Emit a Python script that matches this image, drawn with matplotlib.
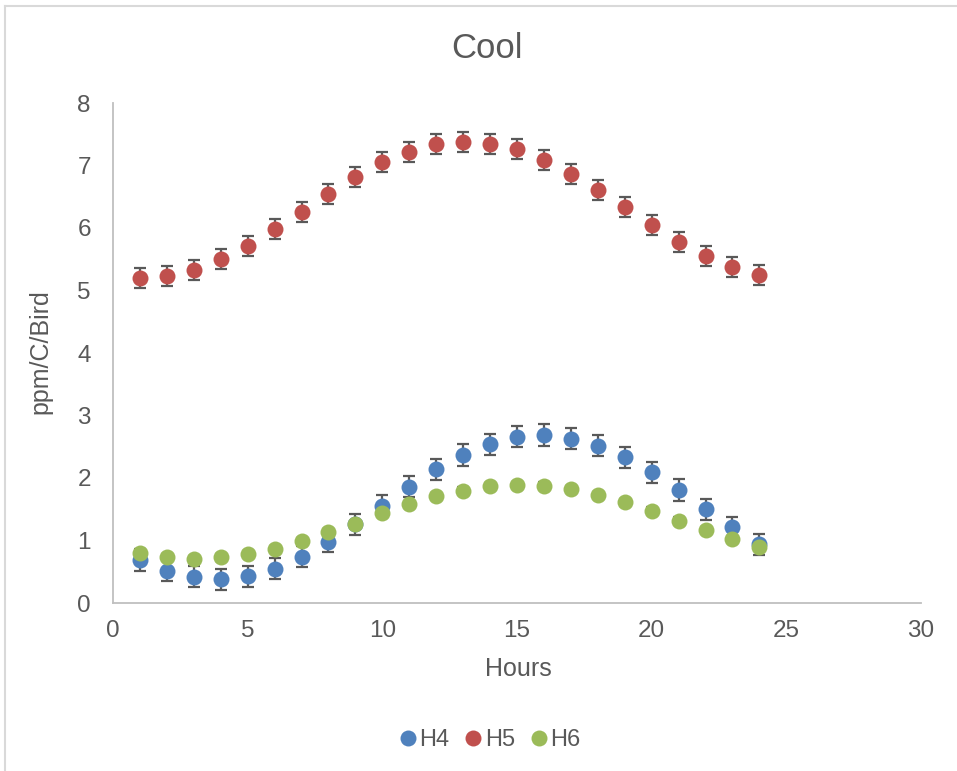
import matplotlib
matplotlib.use("Agg")
import matplotlib.pyplot as plt
from matplotlib.lines import Line2D

plt.rcParams['font.family'] = ['Liberation Sans', 'DejaVu Sans']

hours = list(range(1, 25))
h4 = [0.69, 0.52, 0.42, 0.38, 0.43, 0.55, 0.74, 0.98, 1.26, 1.56, 1.86, 2.14,
      2.37, 2.54, 2.66, 2.69, 2.63, 2.52, 2.33, 2.09, 1.81, 1.50, 1.21, 0.94]
h5 = [5.20, 5.23, 5.33, 5.50, 5.72, 5.98, 6.26, 6.54, 6.81, 7.05, 7.22, 7.34,
      7.38, 7.35, 7.26, 7.09, 6.87, 6.61, 6.33, 6.05, 5.78, 5.55, 5.37, 5.25]
h6 = [0.80, 0.74, 0.71, 0.73, 0.78, 0.87, 0.99, 1.13, 1.27, 1.44, 1.58, 1.71,
      1.80, 1.87, 1.89, 1.88, 1.82, 1.73, 1.61, 1.48, 1.32, 1.17, 1.02, 0.90]
h4_err = 0.17
h5_err = 0.16
h6_err = 0.05

series = [("H4", h4, h4_err, "#4F81BD"),
          ("H5", h5, h5_err, "#C0504D"),
          ("H6", h6, h6_err, "#9BBB59")]

text_color = "#595959"
W, H = 957, 771
fig = plt.figure(figsize=(W / 100, H / 100), dpi=100)
ax = fig.add_axes([113 / W, (H - 603) / H, (921 - 113) / W, (603 - 103) / H])

for z, (name, vals, err, color) in enumerate(series):
    ax.errorbar(hours, vals, yerr=err, fmt='none', ecolor="#595959",
                elinewidth=1.6, capsize=4, capthick=1.6, zorder=3 + 2 * z)
    ax.plot(hours, vals, 'o', color=color, markersize=11.5, markeredgewidth=0,
            zorder=4 + 2 * z, label=name)

ax.set_xlim(0, 30)
ax.set_ylim(0, 8)
ax.set_xticks(range(0, 31, 5))
ax.set_yticks(range(0, 9))
ax.tick_params(length=0, labelsize=17.5, colors=text_color)
ax.tick_params(axis='x', pad=12)
ax.tick_params(axis='y', pad=16)
for side in ("top", "right"):
    ax.spines[side].set_visible(False)
for side in ("left", "bottom"):
    ax.spines[side].set_color("#BFBFBF")
    ax.spines[side].set_linewidth(1.3)

fig.text(518 / W, 1 - 669 / H, "Hours", ha="center", va="center",
         fontsize=18, color=text_color)
fig.text(40 / W, 1 - 352 / H, "ppm/C/Bird", ha="center", va="center",
         rotation=90, fontsize=18, color=text_color)
fig.text(487 / W, 1 - 48 / H, "Cool", ha="center", va="center",
         fontsize=25, color=text_color)

handles = [Line2D([], [], marker='o', linestyle='', color=c, markersize=11.5,
                  markeredgewidth=0) for _, _, _, c in series]
fig.legend(handles, [s[0] for s in series], loc="center",
           bbox_to_anchor=(487 / W, 1 - 740 / H), ncol=3, frameon=False,
           fontsize=17, handletextpad=-0.1, columnspacing=0.4,
           handlelength=1.2, labelcolor=text_color)

# chart area outline
fig.add_artist(Line2D([5 / W, 5 / W], [0, 1 - 6 / H], transform=fig.transFigure,
                      color="#D9D9D9", linewidth=1.5))
fig.add_artist(Line2D([5 / W, 1], [1 - 6 / H, 1 - 6 / H], transform=fig.transFigure,
                      color="#D9D9D9", linewidth=1.5))

fig.savefig("out.png", dpi=100)
